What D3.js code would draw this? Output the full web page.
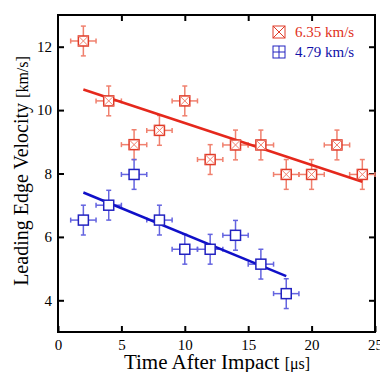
<!DOCTYPE html>
<html>
<head>
<meta charset="utf-8">
<script src="https://cdn.jsdelivr.net/npm/d3@7"></script>
<style>
  body { margin: 0; background: #fff; }
</style>
</head>
<body>
<script>
const xTicks = [0, 5, 10, 15, 20, 25];
const yTicks = [4, 6, 8, 10, 12];

const redTimes = [2, 4, 6, 8, 10, 12, 14, 16, 18, 20, 22, 24];
const redVel = [12.18, 10.29, 8.91, 9.36, 10.29, 8.44, 8.9, 8.9, 7.97, 7.97, 8.9, 7.97];
const redFit = [[2, 10.65], [24, 7.74]];

const blueTimes = [2, 4, 6, 8, 10, 12, 14, 16, 18];
const blueVel = [6.53, 7.0, 7.97, 6.53, 5.61, 5.61, 6.05, 5.14, 4.21];
const blueFit = [[2, 7.4], [18, 4.76]];

const xErr = 1, yErr = 0.47;

(function() {
    const serif = "'Liberation Serif', 'Times New Roman', serif";
    const series = [
        { label: "6.35 km/s", t: redTimes, v: redVel, fit: redFit, line: "#e5281c", mark: "#e03a28", bar: "#f0806e", text: "#e03020", cross: true },
        { label: "4.79 km/s", t: blueTimes, v: blueVel, fit: blueFit, line: "#1010c8", mark: "#2222c0", bar: "#6464e0", text: "#1010a8", cross: false }
    ];

    const svg = d3.select("body").append("svg").attr("width", 380).attr("height", 372)
        .attr("font-family", serif);
    const mLeft = 58, mRight = 375, mTop = 15, mBottom = 332;

    const x = d3.scaleLinear().domain([0, 25]).range([mLeft, mRight]);
    const y = d3.scaleLinear().domain([3, 13]).range([mBottom, mTop]);

    // axes, ticks inward
    svg.append("g").attr("transform", `translate(0,${mBottom})`)
        .call(d3.axisBottom(x).tickValues(xTicks).tickSizeInner(-6).tickSizeOuter(0).tickPadding(7))
        .call(g => g.select(".domain").remove())
        .attr("font-family", serif).attr("font-size", 15);
    svg.append("g").attr("transform", `translate(${mLeft},0)`)
        .call(d3.axisLeft(y).tickValues(yTicks).tickSizeInner(-6).tickSizeOuter(0).tickPadding(6))
        .call(g => g.select(".domain").remove())
        .attr("font-family", serif).attr("font-size", 15);
    svg.append("g").attr("transform", `translate(0,${mTop})`)
        .call(d3.axisTop(x).tickValues(xTicks.slice(1, 5)).tickSizeInner(-6).tickSizeOuter(0).tickFormat(""))
        .call(g => g.select(".domain").remove());
    svg.append("g").attr("transform", `translate(${mRight},0)`)
        .call(d3.axisRight(y).tickValues(yTicks).tickSizeInner(-6).tickSizeOuter(0).tickFormat(""))
        .call(g => g.select(".domain").remove());
    svg.selectAll(".tick line").attr("stroke", "#000").attr("stroke-width", 2);

    svg.append("rect")
        .attr("x", mLeft).attr("y", mTop)
        .attr("width", mRight - mLeft).attr("height", mBottom - mTop)
        .attr("fill", "none").attr("stroke", "#000").attr("stroke-width", 2);

    const line = d3.line().x(d => x(d[0])).y(d => y(d[1]));
    const cap = 2.5, hs = 5;

    series.forEach(s => {
        const pts = s.t.map((t, i) => ({ t: t, v: s.v[i] }));
        const g = svg.append("g");

        // error bars
        pts.forEach(p => {
            const cx = x(p.t), cy = y(p.v);
            const x0 = x(p.t - xErr), x1 = x(p.t + xErr);
            const y0 = y(p.v - yErr), y1 = y(p.v + yErr);
            const segs = [
                [x0, cy, x1, cy], [cx, y0, cx, y1],
                [x0, cy - cap, x0, cy + cap], [x1, cy - cap, x1, cy + cap],
                [cx - cap, y0, cx + cap, y0], [cx - cap, y1, cx + cap, y1]
            ];
            segs.forEach(sg => g.append("line")
                .attr("x1", sg[0]).attr("y1", sg[1]).attr("x2", sg[2]).attr("y2", sg[3])
                .attr("stroke", s.bar).attr("stroke-width", 1.5));
        });

        g.append("path").datum(s.fit).attr("d", line)
            .attr("fill", "none").attr("stroke", s.line).attr("stroke-width", 2.5);

        // markers
        pts.forEach(p => {
            const cx = x(p.t), cy = y(p.v);
            g.append("rect").attr("x", cx - hs).attr("y", cy - hs).attr("width", 2 * hs).attr("height", 2 * hs)
                .attr("fill", "#fff").attr("stroke", s.mark).attr("stroke-width", 1.5);
            if (s.cross) {
                g.append("path").attr("d", `M${cx - hs},${cy - hs}L${cx + hs},${cy + hs}M${cx - hs},${cy + hs}L${cx + hs},${cy - hs}`)
                    .attr("stroke", s.bar).attr("stroke-width", 1);
            }
        });
    });

    // legend
    series.forEach((s, i) => {
        const ly = 32 + i * 20, lx = 279, h = 6;
        svg.append("rect").attr("x", lx - h).attr("y", ly - h).attr("width", 2 * h).attr("height", 2 * h)
            .attr("fill", "none").attr("stroke", s.mark).attr("stroke-width", 1);
        const d = s.cross
            ? `M${lx - h},${ly - h}L${lx + h},${ly + h}M${lx - h},${ly + h}L${lx + h},${ly - h}`
            : `M${lx - h},${ly}L${lx + h},${ly}M${lx},${ly - h}L${lx},${ly + h}`;
        svg.append("path").attr("d", d).attr("stroke", s.mark).attr("stroke-width", 1);
        svg.append("text").attr("x", 295).attr("y", ly + 5)
            .attr("fill", s.text).attr("font-size", 15).text(s.label);
    });

    // axis titles
    const xt = svg.append("text").attr("x", 217).attr("y", 369).attr("text-anchor", "middle")
        .attr("font-size", 21).attr("fill", "#000");
    xt.append("tspan").text("Time After Impact ");
    xt.append("tspan").attr("font-size", 16).text("[μs]");

    const yt = svg.append("text").attr("transform", "translate(28,171) rotate(-90)").attr("text-anchor", "middle")
        .attr("font-size", 20).attr("fill", "#000");
    yt.append("tspan").text("Leading Edge Velocity ");
    yt.append("tspan").attr("font-size", 16).text("[km/s]");
})();
</script>
</body>
</html>
